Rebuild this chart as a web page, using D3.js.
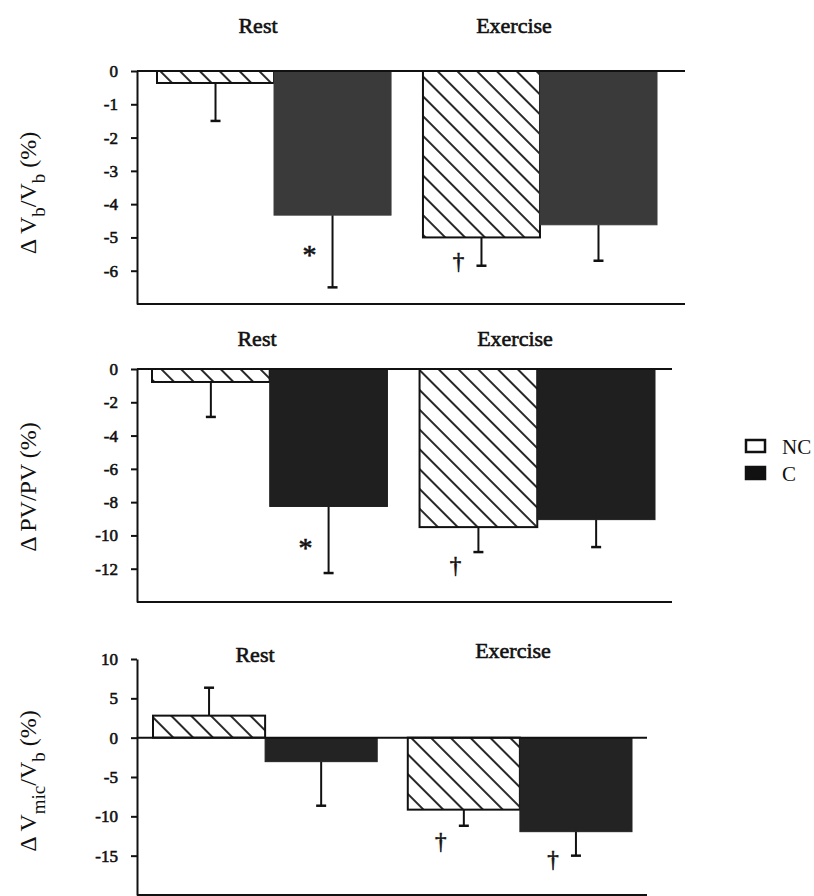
<!DOCTYPE html>
<html>
<head>
<meta charset="utf-8">
<script src="https://cdn.jsdelivr.net/npm/d3@7"></script>
<style>
  body { margin: 0; background: #fff; }
  svg { display: block; font-family: "Liberation Serif", "Times New Roman", serif; }
</style>
</head>
<body>
<svg id="chart" width="814" height="896"></svg>
<script>
const groups = ["Rest", "Exercise"];
const series = ["NC", "C"];

// panel A: delta Vb/Vb (%)
const vbNC = [-0.36, -5.0];
const vbNCse = [1.14, 0.85];
const vbC = [-4.33, -4.62];
const vbCse = [2.17, 1.08];
const vbTicks = [0, -1, -2, -3, -4, -5, -6];
const vbMarks = [
  {group: "Rest", series: "C", symbol: "*", at: -5.3},
  {group: "Exercise", series: "NC", symbol: "†", at: -5.7}
];

// panel B: delta PV/PV (%)
const pvNC = [-0.78, -9.5];
const pvNCse = [2.1, 1.5];
const pvC = [-8.26, -9.05];
const pvCse = [4.0, 1.65];
const pvTicks = [0, -2, -4, -6, -8, -10, -12];
const pvMarks = [
  {group: "Rest", series: "C", symbol: "*", at: -10.3},
  {group: "Exercise", series: "NC", symbol: "†", at: -11.8}
];

// panel C: delta Vmic/Vb (%)
const micNC = [2.8, -9.15];
const micNCse = [3.55, 2.05];
const micC = [-3.05, -11.95];
const micCse = [5.6, 3.05];
const micTicks = [10, 5, 0, -5, -10, -15];
const micMarks = [
  {group: "Exercise", series: "NC", symbol: "†", at: -13.1},
  {group: "Exercise", series: "C", symbol: "†", at: -15.4}
];

const legendItems = ["NC", "C"];

const panels = [
  {label: [["Δ V"], ["b", true], ["/V"], ["b", true], [" (%)"]],
   domain: [-7, 0], ticks: vbTicks, nc: vbNC, ncSe: vbNCse, c: vbC, cSe: vbCse, marks: vbMarks,
   x0: 137, x1: 685, b0: 157, b1: 657, top: 71, bottom: 304,
   dark: "#3a3a3a", titleX: [258, 514], titleY: 33, labelY: 193},
  {label: [["Δ PV/PV (%)"]],
   domain: [-14, 0], ticks: pvTicks, nc: pvNC, ncSe: pvNCse, c: pvC, cSe: pvCse, marks: pvMarks,
   x0: 137, x1: 672, b0: 152, b1: 655, top: 369, bottom: 602,
   dark: "#1f1f1f", titleX: [257, 515], titleY: 346, labelY: 487},
  {label: [["Δ V"], ["mic", true], ["/V"], ["b", true], [" (%)"]],
   domain: [-20, 10], ticks: micTicks, nc: micNC, ncSe: micNCse, c: micC, cSe: micCse, marks: micMarks,
   x0: 137, x1: 647, b0: 153, b1: 632, top: 659, bottom: 895,
   dark: "#232323", titleX: [255, 513], titleY: [662, 658], labelY: 781}
];

const svg = d3.select("#chart");
const serif = "'Liberation Serif', 'Times New Roman', serif";

// serif text, thickened with a thin stroke to look like the print
const heavy = sel => sel
  .attr("fill", "#111")
  .attr("stroke", "#111")
  .attr("stroke-width", 0.6)
  .style("font-family", serif);

const defs = svg.append("defs");
defs.append("pattern")
  .attr("id", "hatch")
  .attr("patternUnits", "userSpaceOnUse")
  .attr("width", 14)
  .attr("height", 14)
  .attr("patternTransform", "rotate(-45)")
  .call(p => p.append("rect").attr("width", 14).attr("height", 14).attr("fill", "#fff"))
  .append("line")
  .attr("x1", 7).attr("y1", -2).attr("x2", 7).attr("y2", 16)
  .attr("stroke", "#111")
  .attr("stroke-width", 1.8);

panels.forEach(p => {
  const y = d3.scaleLinear().domain(p.domain).range([p.bottom, p.top]);
  const x = d3.scaleBand().domain(groups).range([p.b0, p.b1]).paddingInner(0.12);
  const xs = d3.scaleBand().domain(series).range([0, x.bandwidth()]);

  const rows = groups.flatMap((g, i) => [
    {group: g, series: "NC", value: p.nc[i], se: p.ncSe[i]},
    {group: g, series: "C", value: p.c[i], se: p.cSe[i]}
  ]);

  const g = svg.append("g");

  // error bars (drawn first, bars sit on top)
  const err = g.append("g").attr("stroke", "#111").attr("stroke-width", 2);
  rows.forEach(d => {
    const cx = x(d.group) + xs(d.series) + xs.bandwidth() / 2;
    const end = d.value + Math.sign(d.value) * d.se;
    err.append("line").attr("x1", cx).attr("x2", cx)
      .attr("y1", y(d.value)).attr("y2", y(end));
    err.append("line").attr("x1", cx - 5).attr("x2", cx + 5)
      .attr("y1", y(end)).attr("y2", y(end)).attr("stroke-width", 2.5);
  });

  g.append("g")
    .selectAll("rect")
    .data(rows)
    .join("rect")
    .attr("x", d => x(d.group) + xs(d.series))
    .attr("width", xs.bandwidth())
    .attr("y", d => y(Math.max(0, d.value)))
    .attr("height", d => Math.abs(y(d.value) - y(0)))
    .attr("fill", d => d.series === "NC" ? "url(#hatch)" : p.dark)
    .attr("stroke", d => d.series === "NC" ? "#111" : p.dark)
    .attr("stroke-width", d => d.series === "NC" ? 2 : 1);

  // zero line and bottom line
  g.append("line")
    .attr("x1", p.x0).attr("x2", p.x1)
    .attr("y1", y(0)).attr("y2", y(0))
    .attr("stroke", "#111").attr("stroke-width", 2);
  g.append("line")
    .attr("x1", p.x0).attr("x2", p.x1)
    .attr("y1", y(p.domain[0])).attr("y2", y(p.domain[0]))
    .attr("stroke", "#111").attr("stroke-width", 2);

  const axis = g.append("g")
    .attr("transform", `translate(${p.x0},0)`)
    .call(d3.axisLeft(y)
      .tickValues(p.ticks)
      .tickFormat(d => String(d))
      .tickSize(6).tickSizeOuter(0).tickPadding(13));
  axis.select(".domain").attr("stroke", "#111").attr("stroke-width", 2);
  axis.selectAll(".tick line").attr("stroke", "#111").attr("stroke-width", 2);
  axis.selectAll(".tick text")
    .call(heavy)
    .style("font-size", "17px");

  // group titles
  groups.forEach((name, i) => {
    g.append("text")
      .attr("x", p.titleX[i])
      .attr("y", Array.isArray(p.titleY) ? p.titleY[i] : p.titleY)
      .attr("text-anchor", "middle")
      .call(heavy)
      .style("font-size", "22px")
      .text(name);
  });

  // significance marks
  p.marks.forEach(m => {
    const cx = x(m.group) + xs(m.series) + xs.bandwidth() / 2;
    g.append("text")
      .attr("x", cx - 23)
      .attr("y", y(m.at))
      .attr("dy", m.symbol === "*" ? "0.6em" : "0.35em")
      .attr("text-anchor", "middle")
      .call(heavy)
      .style("font-size", m.symbol === "*" ? "28px" : "23px")
      .text(m.symbol);
  });

  // y label
  const lab = g.append("text")
    .attr("transform", `translate(28,${p.labelY}) rotate(-90)`)
    .attr("text-anchor", "middle")
    .attr("dominant-baseline", "central")
    .attr("fill", "#111")
    .style("font-size", "24px");
  p.label.forEach(([t, sub]) => {
    lab.append("tspan")
      .attr("baseline-shift", sub ? "sub" : null)
      .style("font-size", sub ? "19px" : null)
      .text(t);
  });
});

// legend
const leg = svg.append("g").attr("transform", "translate(746,440)");
legendItems.forEach((name, i) => {
  leg.append("rect")
    .attr("x", 0).attr("y", i * 27)
    .attr("width", 19).attr("height", 12)
    .attr("fill", name === "NC" ? "#fff" : "#111")
    .attr("stroke", "#111").attr("stroke-width", 2.5);
  leg.append("text")
    .attr("x", 36).attr("y", i * 27 + 14)
    .attr("fill", "#111")
    .style("font-size", "21px")
    .text(name);
});
</script>
</body>
</html>
